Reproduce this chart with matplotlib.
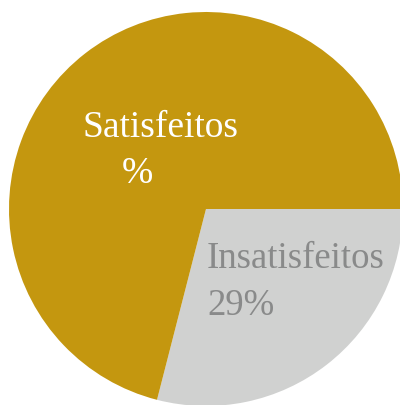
import matplotlib.pyplot as plt

# satisfaction survey shares
groups = ["Insatisfeitos", "Satisfeitos"]
shares = [29, 71]
colors = ["#D0D1D0", "#C4970F"]

W, H = 400, 406
CX, CY, R = 206, 210, 197


def px(x, y):
    # pixel position (from top-left) to data units of the pie
    return (x - CX) / R, (CY - y) / R


fig = plt.figure(figsize=(W / 100, H / 100), dpi=100)
ax = fig.add_axes([0, 0, 1, 1])
ax.pie(shares, colors=colors, startangle=0, counterclock=False, radius=1,
       wedgeprops={"linewidth": 0})
ax.set_aspect("auto")
ax.set_xlim(-CX / R, (W - CX) / R)
ax.set_ylim(-(H - CY) / R, CY / R)
ax.axis("off")

white = {"family": "Liberation Serif", "size": 27, "color": "white"}
grey = {"family": "Liberation Serif", "size": 26.5, "color": "#898A8A"}

ax.text(*px(83, 137), groups[1], ha="left", va="baseline", **white)
ax.text(*px(122, 183), "%", ha="left", va="baseline", **white)

ax.text(*px(207, 268), groups[0], ha="left", va="baseline", **grey)
ax.text(*px(207, 315), "%d%%" % shares[0], ha="left", va="baseline", **grey)

plt.savefig("out.png", dpi=100)
